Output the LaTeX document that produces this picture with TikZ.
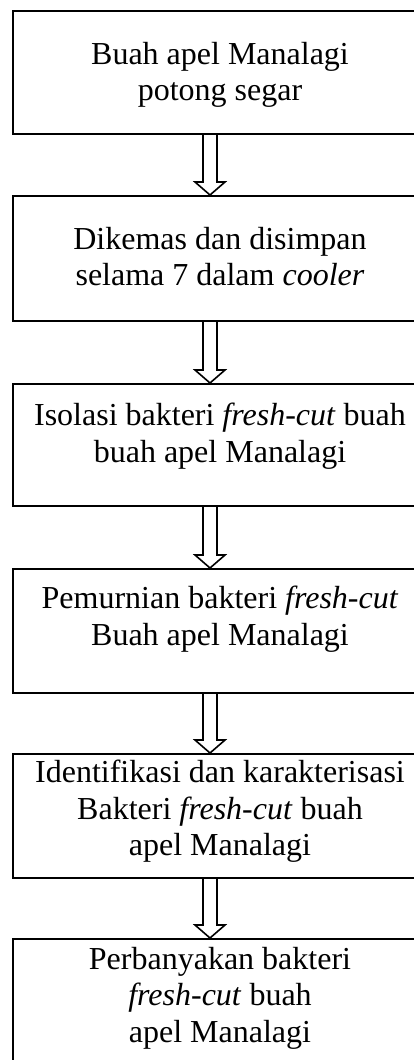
\documentclass[tikz,border=0pt]{standalone}
\usepackage{fontspec}
\setmainfont{Liberation Serif}
\usetikzlibrary{calc}
\newcommand\blockarr[2]{%
  \path (#1.south -| ax) coordinate (as) (#2.north -| ax) coordinate (ae);
  \draw[blockarrow] ($(as)+(-7,0)$) -- ($(ae)+(-7,13)$) -- ($(ae)+(-15,13)$) -- (ae)
    -- ($(ae)+(15,13)$) -- ($(ae)+(7,13)$) -- ($(as)+(7,0)$);}
\begin{document}
\begin{tikzpicture}[x=1pt,y=1pt,
  stepbox/.style={draw=black, line width=2.2pt, minimum width=416pt, minimum height=#1, anchor=north west, inner sep=0pt},
  txt/.style={font=\fontsize{32}{36.5}\selectfont, align=center, anchor=north, inner sep=0pt},
  blockarrow/.style={draw=black, line width=1.6pt, line join=miter}]
\useasboundingbox (0,0) rectangle (414,-1060);
\clip (0,0) rectangle (414,-1060);
\coordinate (ax) at (210,0);
\node[stepbox=123pt] (b1) at (12,-10) {};
\node[stepbox=125pt] (b2) at (12,-195) {};
\node[stepbox=122pt] (b3) at (12,-383) {};
\node[stepbox=124pt] (b4) at (12,-568) {};
\node[stepbox=124pt] (b5) at (12,-753) {};
\node[stepbox=160pt] (b6) at (12,-938) {};
\node[txt] (t1) at (220,-42) {Buah apel Manalagi\\potong segar};
\node[txt] (t2) at (220,-227) {Dikemas dan disimpan\\selama 7 dalam \textit{cooler}};
\node[txt] (t3) at (220,-403) {Isolasi bakteri \textit{fresh-cut} buah\\buah apel Manalagi};
\node[txt] (t4) at (220,-586) {Pemurnian bakteri \textit{fresh-cut}\\Buah apel Manalagi};
\node[txt] (t5) at (220,-760) {Identifikasi dan karakterisasi\\Bakteri \textit{fresh-cut} buah\\apel Manalagi};
\node[txt] (t6) at (220,-947) {Perbanyakan bakteri\\\textit{fresh-cut} buah\\apel Manalagi};
\blockarr{b1}{b2}
\blockarr{b2}{b3}
\blockarr{b3}{b4}
\blockarr{b4}{b5}
\blockarr{b5}{b6}
\end{tikzpicture}
\end{document}
